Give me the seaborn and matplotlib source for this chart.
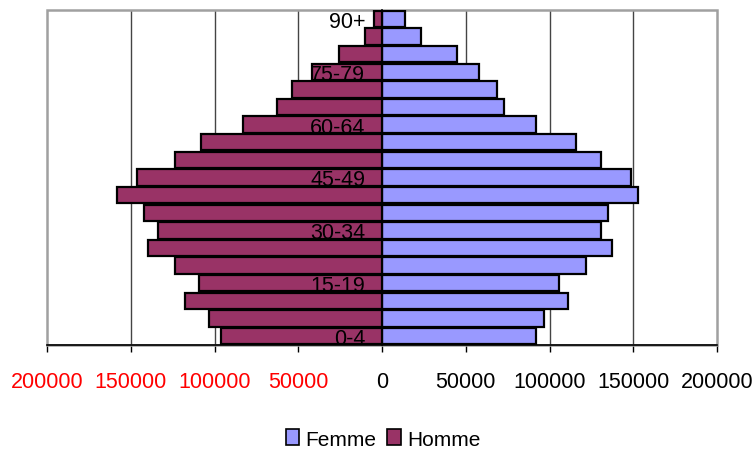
import matplotlib
matplotlib.use("Agg")
import matplotlib.pyplot as plt
import matplotlib.patches as mpatches
from matplotlib.ticker import FixedLocator, FixedFormatter
import seaborn as sns
import pandas as pd

ages = ["0-4", "5-9", "10-14", "15-19", "20-24", "25-29", "30-34", "35-39",
        "40-44", "45-49", "50-54", "55-59", "60-64", "65-69", "70-74",
        "75-79", "80-84", "85-89", "90+"]
homme = [96000, 103000, 117500, 109000, 123500, 139500, 133500, 142000,
         158500, 146000, 123500, 108000, 83000, 62500, 54000,
         42000, 25500, 10000, 5000]
femme = [92000, 97000, 111000, 105500, 122000, 137500, 130500, 135000,
         153000, 148500, 130500, 116000, 92000, 73000, 68500,
         58000, 44500, 23500, 14000]
shown_ages = ["0-4", "15-19", "30-34", "45-49", "60-64", "75-79", "90+"]
xticks = [-200000, -150000, -100000, -50000, 0, 50000, 100000, 150000, 200000]
series = ["Femme", "Homme"]
colors = {"Femme": "#9999FF", "Homme": "#993366"}

df = pd.DataFrame({
    "age": ages * 2,
    "valeur": femme + [-v for v in homme],
    "sexe": ["Femme"] * len(ages) + ["Homme"] * len(ages),
})

sns.set_style("white")
plt.rcParams["font.family"] = ["Liberation Sans", "DejaVu Sans"]
plt.rcParams["text.color"] = "black"
plt.rcParams["xtick.color"] = "black"
plt.rcParams["ytick.color"] = "black"
plt.rcParams["axes.labelcolor"] = "black"

fig = plt.figure(figsize=(7.54, 4.52), dpi=100)
ax = fig.add_axes([47 / 754, 1 - 346 / 452, (717 - 47) / 754, (346 - 11) / 452])

order = ages[::-1]
sns.barplot(data=df, x="valeur", y="age", hue="sexe", order=order,
            hue_order=series, palette=colors, dodge=False, width=0.93,
            saturation=1, edgecolor="black", linewidth=1.6, ax=ax,
            legend=False, zorder=2)

ax.set_xlim(xticks[0], xticks[-1])
ax.set_ylim(len(ages) - 0.5, -0.5)

# vertical gridlines
for v in xticks[1:-1]:
    if v != 0:
        ax.axvline(v, color="#444444", lw=1.0, zorder=0.5)

# x axis
ax.xaxis.set_major_locator(FixedLocator(xticks))
ax.xaxis.set_major_formatter(FixedFormatter([str(abs(v)) for v in xticks]))
ax.tick_params(axis="x", bottom=True, direction="out", length=5, width=1,
               color="black", pad=14, labelsize=15.5, labelcolor="black")
for lab, v in zip(ax.get_xticklabels(), xticks):
    lab.set_color("red" if v < 0 else "black")

# y axis at zero
ax.spines["left"].set_position(("data", 0))
ax.spines["left"].set_color("black")
ax.spines["left"].set_linewidth(1.2)
ax.spines["left"].set_zorder(3)
ax.spines["bottom"].set_color("black")
ax.spines["bottom"].set_linewidth(1.2)
ax.spines["top"].set_visible(False)
ax.spines["right"].set_visible(False)
ypos = [order.index(a) for a in shown_ages]
ax.yaxis.set_major_locator(FixedLocator(ypos))
ax.yaxis.set_major_formatter(FixedFormatter(shown_ages))
ax.tick_params(axis="y", left=False, length=0, pad=12, labelsize=15.5,
               labelcolor="black")
ax.yaxis.set_zorder(5)
ax.set_xlabel("")
ax.set_ylabel("")

# plot area frame
frame = mpatches.Rectangle((0, 0), 1, 1, transform=ax.transAxes, fill=False,
                           edgecolor="#a0a0a0", lw=1.8, clip_on=False, zorder=1)
ax.add_patch(frame)

handles = [mpatches.Patch(facecolor=colors[s], edgecolor="black", lw=1.2, label=s)
           for s in series]
fig.legend(handles=handles, loc="center", bbox_to_anchor=(383 / 754, 1 - 440 / 452),
           ncol=2, frameon=False, fontsize=15, handlelength=0.65, handleheight=0.8,
           handletextpad=0.3, columnspacing=0.5, labelcolor="black")

fig.savefig("out.png", dpi=100)
